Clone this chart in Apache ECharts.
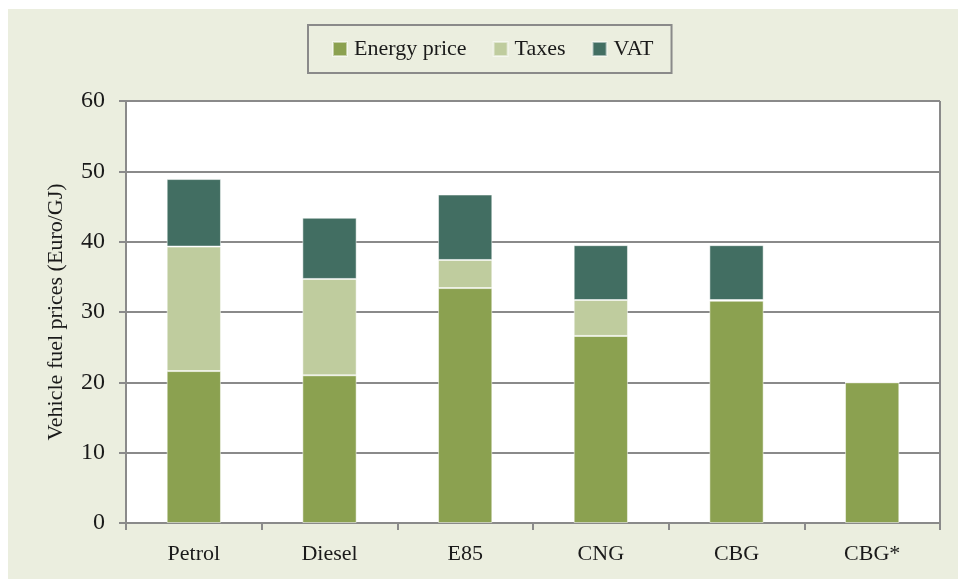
<!DOCTYPE html>
<html>
<head>
<meta charset="utf-8">
<script src="https://cdn.jsdelivr.net/npm/echarts@6/dist/echarts.min.js"></script>
<style>
  html, body { margin: 0; padding: 0; background: #ffffff; }
  #fuelChart { width: 958px; height: 579px; }
</style>
</head>
<body>
<div id="fuelChart"></div>
<script>
// categories and stacked values (Euro/GJ)
const fuels = ['Petrol', 'Diesel', 'E85', 'CNG', 'CBG', 'CBG*']
const energyPrice = [21.6, 21.0, 33.4, 26.6, 31.6, 20.0]
const taxes = [17.7, 13.7, 4.0, 5.1, 0.1, 0]
const vat = [9.6, 8.7, 9.3, 7.8, 7.8, 0]
const yTicks = [0, 10, 20, 30, 40, 50, 60]

const serif = 'Liberation Serif'
let fuelChart = echarts.init(document.getElementById('fuelChart'))

function stack(name, data, color) {
  return {
    name: name,
    type: 'bar',
    stack: 'total',
    data: data,
    barWidth: '40%',
    itemStyle: { color: color, borderColor: 'rgba(255,255,255,0.5)', borderWidth: 1 },
    emphasis: { disabled: true }
  }
}

let option = {
  animation: false,
  graphic: [
    {
      type: 'rect',
      z: -10,
      silent: true,
      shape: { x: 8, y: 9, width: 950, height: 570 },
      style: { fill: '#ebeedf' }
    },
    {
      type: 'rect',
      z: -5,
      silent: true,
      shape: { x: 126, y: 101, width: 814, height: 422 },
      style: { fill: '#ffffff' }
    },
    // right border of the plot area
    {
      type: 'line',
      silent: true,
      shape: { x1: 940, y1: 101, x2: 940, y2: 523 },
      style: { stroke: '#8a8a8a', lineWidth: 2 }
    }
  ],
  legend: {
    top: 25,
    left: 308,
    itemWidth: 14,
    itemHeight: 14,
    itemGap: 26,
    padding: [13, 18, 13, 24],
    borderColor: '#8a8a8a',
    borderWidth: 2,
    icon: 'rect',
    textStyle: { fontFamily: serif, fontSize: 22, color: '#1a1a1a', padding: [0, 0, 0, 2] },
    data: ['Energy price', 'Taxes', 'VAT']
  },
  grid: { left: 126, right: 18, top: 101, bottom: 56, containLabel: false },
  xAxis: {
    type: 'category',
    data: fuels,
    axisLine: { lineStyle: { color: '#8a8a8a', width: 2 } },
    axisTick: { show: true, length: 7, lineStyle: { color: '#8a8a8a', width: 2 } },
    axisLabel: { fontFamily: serif, fontSize: 22, color: '#1a1a1a', margin: 20 }
  },
  yAxis: {
    type: 'value',
    min: 0,
    max: yTicks[yTicks.length - 1],
    interval: 10,
    name: 'Vehicle fuel prices (Euro/GJ)',
    nameLocation: 'middle',
    nameGap: 59,
    nameTextStyle: { fontFamily: serif, fontSize: 22, color: '#1a1a1a' },
    axisLine: { show: true, lineStyle: { color: '#8a8a8a', width: 2 } },
    axisTick: { show: true, length: 7, lineStyle: { color: '#8a8a8a', width: 2 } },
    splitLine: { lineStyle: { color: '#8a8a8a', width: 2 } },
    axisLabel: { fontFamily: serif, fontSize: 24, color: '#1a1a1a', margin: 21 }
  },
  series: [
    stack('Energy price', energyPrice, '#8ba150'),
    stack('Taxes', taxes, '#bfcc9e'),
    stack('VAT', vat, '#426e62')
  ]
}

fuelChart.setOption(option)
</script>
</body>
</html>
